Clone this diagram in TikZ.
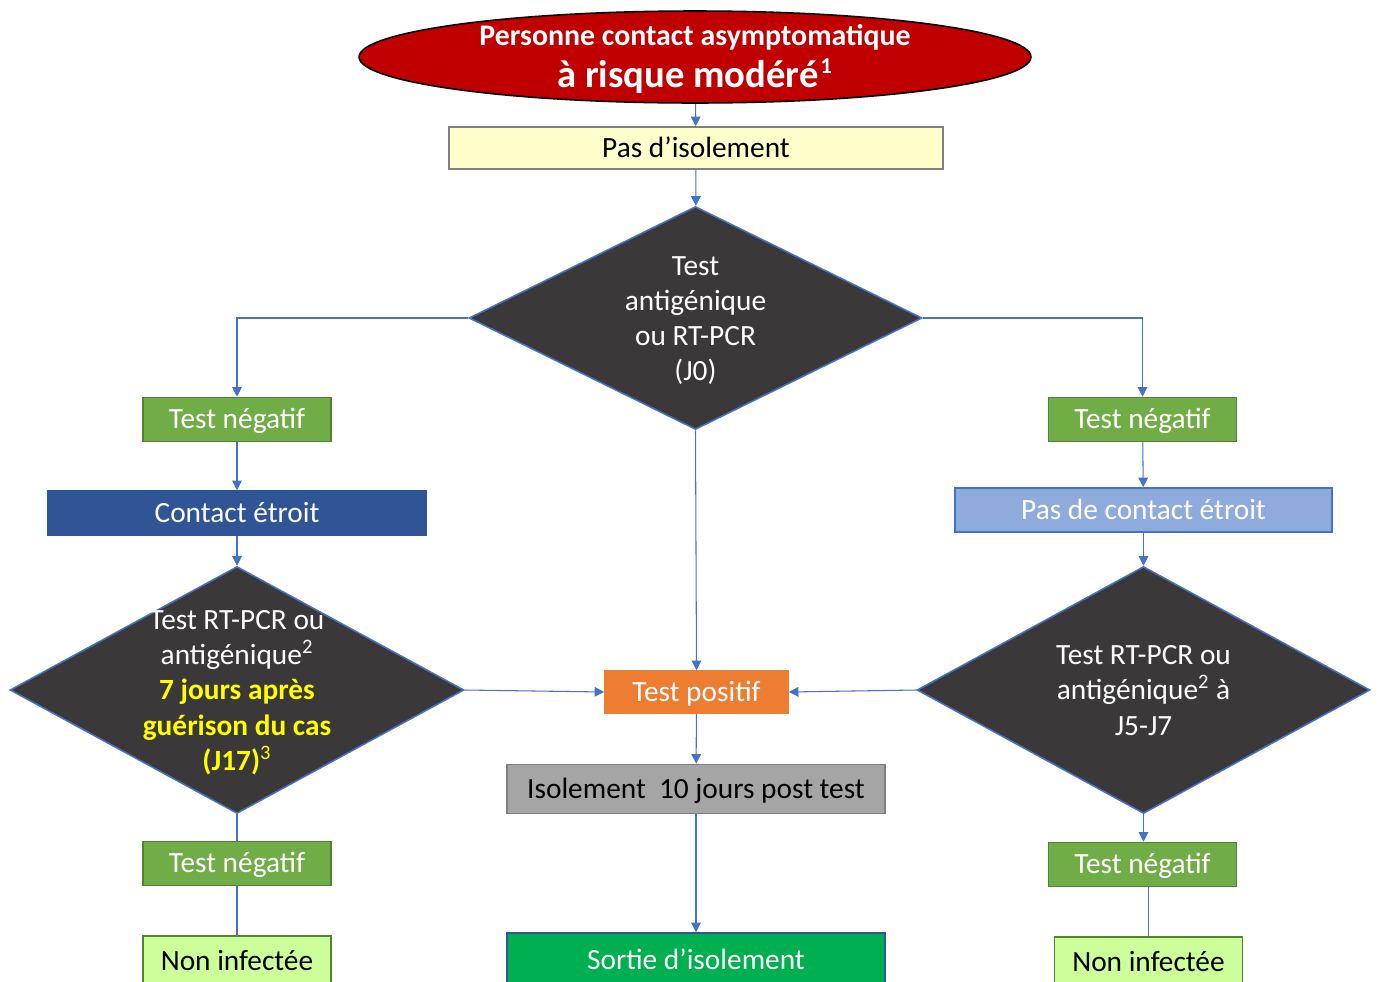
\documentclass[tikz,border=0pt]{standalone}
\usepackage{fontspec}
\setmainfont{Carlito}
\usepackage{xcolor}
\usetikzlibrary{shapes.geometric,arrows.meta,positioning,calc}

\definecolor{redfill}{HTML}{C00000}
\definecolor{paleyellow}{HTML}{FFFFCC}
\definecolor{greyline}{HTML}{7F7F7F}
\definecolor{darkfill}{HTML}{3A3838}
\definecolor{blueline}{HTML}{4472C4}
\definecolor{greenfill}{HTML}{70AD47}
\definecolor{greenline}{HTML}{548235}
\definecolor{navyfill}{HTML}{2F5597}
\definecolor{skyfill}{HTML}{8FAADC}
\definecolor{orangefill}{HTML}{ED7D31}
\definecolor{greyfill}{HTML}{A5A5A5}
\definecolor{exitfill}{HTML}{00B050}
\definecolor{palegreen}{HTML}{CCFF99}
\definecolor{yellowtxt}{HTML}{FFFF00}

\begin{document}
\begin{tikzpicture}[x=0.02cm,y=-0.02cm,
    box/.style={draw, line width=0.9pt, inner sep=0pt, text height=13.5pt, text depth=3pt, font=\fontsize{16.7}{20}\selectfont},
    negbox/.style={box, fill=greenfill, draw=greenline, text=white, minimum width=3.76cm, minimum height=0.88cm},
    endbox/.style={box, fill=palegreen, draw=greenline, minimum width=3.76cm, minimum height=1cm},
    decide/.style={diamond, draw=blueline, line width=0.9pt, fill=darkfill, inner sep=0pt, text=white, font=\fontsize{16.7}{20}\selectfont},
    link/.style={draw=blueline, line width=0.6pt},
    arr/.style={link, -{Triangle[length=5.5pt,width=5.5pt]}}]
    \useasboundingbox (0,0) rectangle (1379,981);
    \clip (0,0) rectangle (1379,981);

    % nodes
    \node [ellipse, draw=black, line width=0.9pt, fill=redfill, text=white, inner sep=0pt,
        minimum width=13.44cm, minimum height=1.84cm] (start) at (695,57)
        {\smash{\makebox[0pt]{\raisebox{-3.7pt}{\begin{tabular}{@{}c@{}}
        {\fontsize{17}{20}\selectfont\bfseries Personne contact asymptomatique}\\[4pt]
        {\fontsize{22}{26}\selectfont\bfseries à risque modéré\kern1pt\textsuperscript{\fontsize{13}{15}\selectfont 1}}
        \end{tabular}}}}};
    \node [box, fill=paleyellow, draw=greyline, minimum width=9.88cm, minimum height=0.84cm] (noiso) at (696,148) {Pas d’isolement};
    \node [decide, minimum width=9.06cm, minimum height=4.46cm] (test0) at (695.5,318)
        {\smash{\makebox[0pt]{\raisebox{-6pt}{\begin{tabular}{@{}c@{}}Test\\antigénique\\ou RT-PCR\\(J0)\end{tabular}}}}};

    \node [negbox] (negL) at (237,419.5) {Test négatif};
    \node [negbox] (negR) at (1142.5,419.5) {Test négatif};
    \node [box, fill=navyfill, draw=navyfill, text=white, minimum width=7.56cm, minimum height=0.88cm] (close) at (237,513) {Contact étroit};
    \node [box, fill=skyfill, draw=blueline, text=white, minimum width=7.54cm, minimum height=0.88cm] (notclose) at (1143.5,510) {Pas de contact étroit};

    \node [decide, minimum width=9.08cm, minimum height=4.94cm] (testL) at (237,690)
        {\smash{\makebox[0pt]{\raisebox{-6pt}{\begin{tabular}{@{}c@{}}Test RT-PCR ou\\antigénique\textsuperscript{2}\\
        \textcolor{yellowtxt}{\bfseries 7 jours après}\\\textcolor{yellowtxt}{\bfseries guérison du cas}\\
        \textcolor{yellowtxt}{{\bfseries (J17)}\textsuperscript{3}}\end{tabular}}}}};
    \node [decide, minimum width=9.06cm, minimum height=4.94cm] (testR) at (1143.5,690)
        {\smash{\makebox[0pt]{\raisebox{-6pt}{\begin{tabular}{@{}c@{}}Test RT-PCR ou\\antigénique\textsuperscript{2} à\\J5-J7\end{tabular}}}}};

    \node [box, fill=orangefill, draw=orangefill, text=white, minimum width=3.66cm, minimum height=0.84cm] (pos) at (696.5,692) {Test positif};
    \node [box, fill=greyfill, draw=greyline, minimum width=7.56cm, minimum height=0.98cm] (iso) at (696,789) {Isolement\ \ 10 jours post test};
    \node [box, fill=exitfill, draw=navyfill, text=white, minimum width=7.56cm, minimum height=1.08cm] (exit) at (696,960) {Sortie d’isolement};

    \node [negbox] (negL2) at (237,863.5) {Test négatif};
    \node [negbox] (negR2) at (1142.5,864.5) {Test négatif};
    \node [endbox] (okL) at (237,961) {Non infectée};
    \node [endbox] (okR) at (1148.5,962) {Non infectée};

    % connectors
    \draw [arr] (start) -- (noiso);
    \draw [arr] (noiso) -- (test0);
    \draw [arr] (test0.west) -| (negL.north);
    \draw [arr] (test0.east) -| (negR.north);
    \draw [arr] (test0.south) -- (pos.north);
    \draw [arr] (negL) -- (close);
    \draw [arr] (close) -- (testL.north);
    \draw [arr] (negR) -- (notclose);
    \draw [arr] (notclose) -- (testR.north);
    \draw [arr] (testL.east) -- (pos.west);
    \draw [arr] (testR.west) -- (pos.east);
    \draw [arr] (pos) -- (iso);
    \draw [arr] (iso) -- (exit);
    \draw [link] (testL.south) -- (negL2.north);
    \draw [link] (negL2) -- (okL);
    \draw [arr] (testR.south) -- (testR.south |- negR2.north);
    \draw [link] (okR.north |- negR2.south) -- (okR.north);
\end{tikzpicture}
\end{document}
